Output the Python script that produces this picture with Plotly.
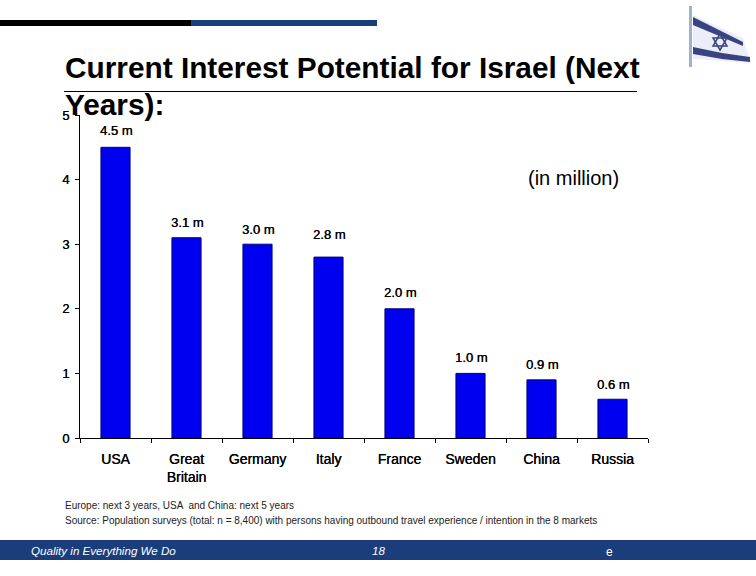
import plotly.graph_objects as go

categories = ["USA", "Great<br>Britain", "Germany", "Italy", "France", "Sweden", "China", "Russia"]
values = [4.5, 3.1, 3.0, 2.8, 2.0, 1.0, 0.9, 0.6]
value_labels = ["4.5 m", "3.1 m", "3.0 m", "2.8 m", "2.0 m", "1.0 m", "0.9 m", "0.6 m"]
label_lift = [17, 15, 15, 23, 16, 16, 15, 15]
y_ticks = [0, 1, 2, 3, 4, 5]

W, H = 756, 576
L, R, T, B = 80, 648, 115, 438
FONT = "Liberation Sans"
NAVY = "#1a3e7c"
FAUX_BOLD = "0.3px 0 0 black"


def px(x):
    return (x - L) / (R - L)


def py(y):
    return (B - y) / (B - T)


def rect(x0, y0, x1, y1, color):
    return dict(type="rect", xref="paper", yref="paper", x0=px(x0), x1=px(x1), y0=py(y1), y1=py(y0),
                fillcolor=color, line=dict(width=0), layer="above")


def poly(points, fill, line=None, width=0):
    d = "M " + " L ".join(f"{px(a):.5f},{py(b):.5f}" for a, b in points) + " Z"
    return dict(type="path", xref="paper", yref="paper", path=d, fillcolor=fill,
                line=dict(color=line or fill, width=width), layer="above")


def text(x, y, s, size, color="black", anchor="left", **kw):
    return dict(xref="paper", yref="paper", x=px(x - 2), y=py(y), text=s, showarrow=False, xanchor=anchor,
                yanchor="middle", align="left", font=dict(family=FONT, size=size, color=color), **kw)


fig = go.Figure(go.Bar(x=categories, y=values, marker=dict(color="#0000f0", line=dict(color="#00007a", width=1)),
                       width=0.41, hoverinfo="skip"))

shapes = [
    rect(0, 20, 191, 26, "#000000"),
    rect(191, 20, 377, 26, NAVY),
    rect(64, 91, 637, 92, "#000000"),
    rect(0, 540, 756, 560, NAVY),
    # flag
    poly([(693, 15), (743, 38), (751, 63), (693, 59)], "#eceef7"),
    poly([(693, 17), (743, 42), (743, 46), (693, 25)], "#3a4382"),
    poly([(693, 47), (722, 53), (750, 57), (750, 62), (722, 59), (693, 54)], "#3a4382"),
    poly([(720, 34), (727, 46), (713, 46)], "rgba(0,0,0,0)", "#3a4382", 1.5),
    poly([(720, 50), (727, 38), (713, 38)], "rgba(0,0,0,0)", "#3a4382", 1.5),
    rect(689, 6, 692, 67, "#9fb3c8"),
]

annotations = [
    text(65, 67, "<b>Current Interest Potential for Israel (Next</b>", 29.8),
    text(65, 104, "<b>Years):</b>", 29.8),
    text(528, 178, "(in million)", 20),
    text(65, 505, "Europe: next 3 years, USA  and China: next 5 years", 10, "#222222"),
    text(65, 520, "Source: Population surveys (total: n = 8,400) with persons having outbound travel experience / intention in the 8 markets", 10, "#222222"),
    text(31, 550.5, "<i>Quality in Everything We Do</i>", 11.6, "white"),
    text(372, 550.5, "<i>18</i>", 11.6, "white"),
    text(606, 552, "e", 12, "white"),
]

for cat, val, lab, lift in zip(categories, values, value_labels, label_lift):
    annotations.append(dict(x=cat, y=val, xref="x", yref="y", text=lab, showarrow=False, yshift=lift,
                            yanchor="middle", xshift=1,
                            font=dict(family=FONT, size=13, color="black", shadow=FAUX_BOLD)))

fig.update_layout(
    width=W, height=H, autosize=False,
    margin=dict(l=L, r=W - R, t=T, b=H - B, pad=0),
    paper_bgcolor="white", plot_bgcolor="white",
    showlegend=False, shapes=shapes, annotations=annotations,
    font=dict(family=FONT, color="black"),
    xaxis=dict(type="category", showgrid=False, zeroline=False, showline=True, linecolor="black", linewidth=1,
               ticks="outside", ticklen=4, tickcolor="black", tickson="boundaries", ticklabelstandoff=8,
               tickangle=0, tickfont=dict(family=FONT, size=14, shadow=FAUX_BOLD)),
    yaxis=dict(range=[0, 5], tickvals=y_ticks, showgrid=False, zeroline=False, showline=True, linecolor="black",
               linewidth=1, ticks="outside", ticklen=4, tickcolor="black", ticklabelstandoff=3,
               tickfont=dict(family=FONT, size=13, shadow=FAUX_BOLD)),
)

fig.write_html("out.html", config={"displayModeBar": False},
               post_script="document.body.style.margin='0';document.documentElement.style.overflow='hidden';")
